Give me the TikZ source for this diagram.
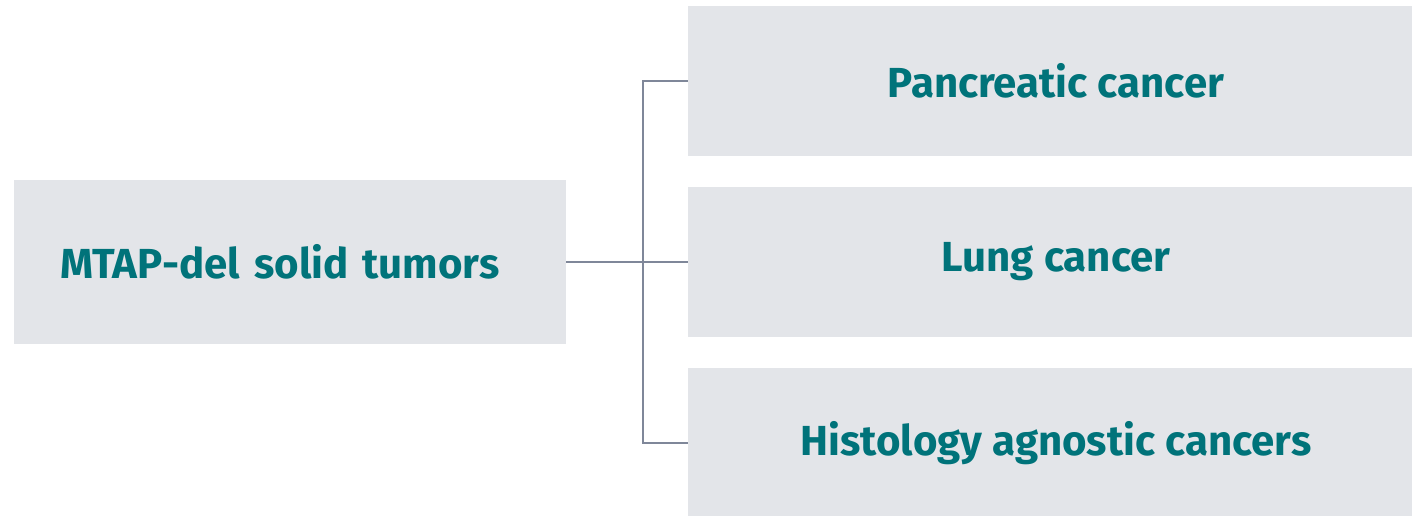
\documentclass[tikz,border=0pt]{standalone}
\usepackage{fontspec}
\setmainfont{Fira Sans}
\definecolor{boxfill}{HTML}{E3E5E9}
\definecolor{linecol}{HTML}{7F8799}
\definecolor{textcol}{HTML}{00737A}
\begin{document}
\begin{tikzpicture}[x=1pt,y=-1pt,
  box/.style={fill=boxfill,draw=none,inner sep=0pt,font=\fontsize{42}{46}\selectfont\bfseries,text=textcol},
  conn/.style={draw=linecol,line width=2pt}]
\useasboundingbox (0,0) rectangle (1412,515);
\clip (0,0) rectangle (1412,515);
\node[box,minimum width=552pt,minimum height=164pt,text width=460pt,align=left,inner xsep=46pt] (L) at (290,262) {MTAP-del solid tumors};
\node[box,minimum width=724pt,minimum height=150pt] (R1) at (1050,81) {\hspace{12pt}Pancreatic cancer};
\node[box,minimum width=724pt,minimum height=150pt] (R2) at (1050,262) {\hspace{12pt}Lung cancer};
\node[box,minimum width=724pt,minimum height=150pt] (R3) at (1050,443) {\hspace{12pt}Histology agnostic cancers};
\draw[conn] (L.east) -- (R2.west);
\draw[conn] (R1.west) -- ++(-45,0) |- (R3.west);
\end{tikzpicture}
\end{document}
